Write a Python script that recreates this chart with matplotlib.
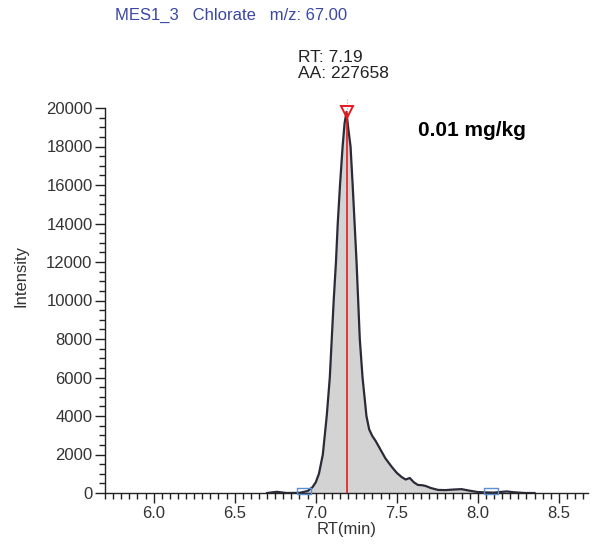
import matplotlib
matplotlib.use("Agg")
import matplotlib.pyplot as plt
from matplotlib.ticker import MultipleLocator, FormatStrFormatter
from matplotlib import font_manager
import numpy as np

plt.rcParams['font.family'] = ['Liberation Sans', 'DejaVu Sans']

# Chromatogram data (RT in min, intensity)
rt = [6.70, 6.76, 6.82, 6.90, 6.95, 6.98, 7.00, 7.02, 7.044, 7.068, 7.087, 7.099,
      7.111, 7.125, 7.136, 7.15, 7.166, 7.178, 7.19, 7.20, 7.215, 7.228, 7.24,
      7.252, 7.262, 7.272, 7.289, 7.313, 7.33, 7.35, 7.37, 7.40, 7.43, 7.47, 7.50,
      7.53, 7.555, 7.58, 7.605, 7.63, 7.66, 7.68, 7.71, 7.755, 7.80, 7.85, 7.90,
      7.95, 8.00, 8.05, 8.10, 8.15, 8.18, 8.22, 8.29, 8.35]
intensity = [0, 60, 0, 10, 100, 300, 550, 1000, 2000, 4000, 6000, 8000,
             10000, 12000, 14000, 16000, 18000, 19200, 19800, 19000, 18000, 16000, 14000,
             12000, 10000, 8000, 6000, 4000, 3300, 2950, 2700, 2250, 1800, 1350, 1050,
             830, 700, 780, 560, 420, 400, 360, 260, 160, 150, 180, 200,
             120, 50, 30, 20, 60, 80, 40, 0, 0]

peak_rt = 7.19
peak_height = 19800
peak_area = 227658
baseline_rt = [6.93, 8.08]

title = "MES1_3   Chlorate   m/z: 67.00"
conc_label = "0.01 mg/kg"

rt = np.array(rt)
intensity = np.array(intensity)

fig = plt.figure(figsize=(5.95, 5.45), dpi=100)
ax = fig.add_axes([105 / 595, 1 - 493 / 545, 483 / 595, 385 / 545])

mask = (rt >= baseline_rt[0]) & (rt <= baseline_rt[1])
x_fill = np.concatenate([[baseline_rt[0]], rt[mask], [baseline_rt[1]]])
y_fill = np.interp(x_fill, rt, intensity)
ax.fill_between(x_fill, 0, y_fill, color='#d3d3d3', lw=0, zorder=1)
ax.plot(rt, intensity, color='#2a2a38', lw=1.6, zorder=3, solid_joinstyle='round')

ax.plot([peak_rt, peak_rt], [0, peak_height], color='#e8191e', lw=1.2, zorder=4)
ax.plot([peak_rt, peak_rt], [peak_height, 20500], color='#9ab0d0', lw=0.8,
        ls=':', zorder=4, clip_on=False)
ax.plot([peak_rt], [peak_height], marker='v', ms=8, mfc='none', mec='#e8191e',
        mew=1.4, zorder=5, clip_on=False)
rect_marker = [(-1.3, -0.5), (1.3, -0.5), (1.3, 0.5), (-1.3, 0.5), (-1.3, -0.5)]
ax.plot(baseline_rt, [90, 90], ls='none', marker=rect_marker, ms=9.5, mfc='none',
        mec='#5b8fd0', mew=1.0, zorder=5, clip_on=False)

ax.set_xlim(5.70, 8.68)
ax.set_ylim(0, 20000)
ax.xaxis.set_major_locator(MultipleLocator(0.5))
ax.xaxis.set_minor_locator(MultipleLocator(0.05))
ax.yaxis.set_major_locator(MultipleLocator(2000))
ax.yaxis.set_minor_locator(MultipleLocator(500))
ax.xaxis.set_major_formatter(FormatStrFormatter('%.1f'))

for s in ['top', 'right']:
    ax.spines[s].set_visible(False)
for s in ['left', 'bottom']:
    ax.spines[s].set_color('#222222')
    ax.spines[s].set_linewidth(1.0)

ax.tick_params(axis='both', which='major', direction='out', length=7, width=1,
               color='#222222', labelsize=12, labelcolor='#333333', pad=2)
ax.tick_params(axis='both', which='minor', direction='out', length=4, width=1,
               color='#222222')

ax.set_xlabel('RT(min)', fontsize=12, color='#333333')
ax.set_ylabel('Intensity', fontsize=12, color='#333333')
ax.xaxis.set_label_coords(0.501, -0.075)
ax.yaxis.set_label_coords(-0.158, 0.564)

fig.text(115 / 595, 1 - 15 / 545, title, color='#3b47a3', fontsize=12,
         va='center', ha='left')
fig.text(298 / 595, 1 - 58 / 545, f"RT: {peak_rt:.2f}", color='#222222',
         fontsize=12.5, va='center', ha='left')
fig.text(298 / 595, 1 - 74 / 545, f"AA: {peak_area}", color='#222222',
         fontsize=12.5, va='center', ha='left')

names = {f.name for f in font_manager.fontManager.ttflist}
if 'Liberation Sans Narrow' in names:
    conc_family, conc_size = ['Liberation Sans Narrow', 'Liberation Sans'], 18.5
else:
    conc_family, conc_size = ['Liberation Sans', 'DejaVu Sans'], 15
fig.text(418 / 595, 1 - 130 / 545, conc_label, fontsize=conc_size, fontweight='bold',
         family=conc_family, va='center', ha='left', color='black')

fig.savefig('out.png', dpi=100)
